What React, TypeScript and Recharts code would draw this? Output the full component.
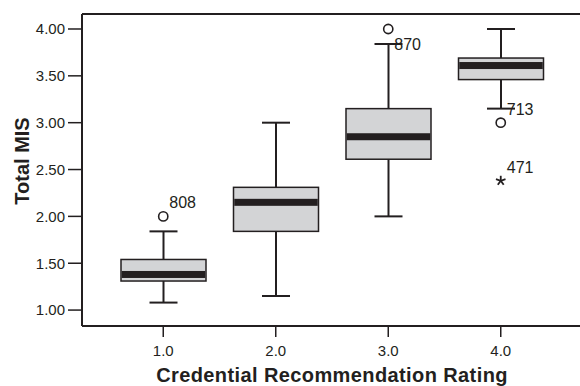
import React from 'react';
import { ComposedChart, Bar, Line, XAxis, YAxis, LabelList, Label, ReferenceLine } from 'recharts';

const categories = ['1.0', '2.0', '3.0', '4.0'];
const whiskerLow = [1.08, 1.15, 2.0, 3.15];
const q1 = [1.31, 1.84, 2.61, 3.46];
const median = [1.38, 2.15, 2.85, 3.61];
const q3 = [1.54, 2.31, 3.15, 3.69];
const whiskerHigh = [1.84, 3.0, 3.84, 4.0];

// circles (outliers) and stars (extremes), one slot per category
const outlierValues = [2.0, null, 4.0, 3.0];
const outlierLabels = ['808', null, '870', '713'];
const extremeValues = [null, null, null, 2.38];
const extremeLabels = [null, null, null, '471'];

const yTicks = [1.0, 1.5, 2.0, 2.5, 3.0, 3.5, 4.0];

const rows = categories.map((cat, i) => ({
  cat,
  lo: whiskerLow[i],
  q1: q1[i],
  med: median[i],
  q3: q3[i],
  hi: whiskerHigh[i],
  out: outlierValues[i],
  outLabel: outlierLabels[i],
  ext: extremeValues[i],
  extLabel: extremeLabels[i],
}));

const INK = '#231f20';
const FONT = '"Liberation Sans", Arial, Helvetica, sans-serif';
const Y_MIN = 0.83;
const Y_MAX = 4.16;
const labelsBelow = new Set(['870']);

const BoxShape = (props: any) => {
  const { x, y, width, height, payload } = props;
  const top = Math.min(y, y + height);
  const span = Math.abs(height);
  const toY = (v: number) => top + ((payload.hi - v) / (payload.hi - payload.lo)) * span;
  const cx = x + width / 2;
  const cap = 14;
  const yQ1 = toY(payload.q1);
  const yQ3 = toY(payload.q3);
  const yMed = toY(payload.med);
  return (
    <g>
      <line x1={cx} x2={cx} y1={toY(payload.hi)} y2={toY(payload.lo)} stroke={INK} strokeWidth={2} />
      <line x1={cx - cap} x2={cx + cap} y1={toY(payload.hi)} y2={toY(payload.hi)} stroke={INK} strokeWidth={2} />
      <line x1={cx - cap} x2={cx + cap} y1={toY(payload.lo)} y2={toY(payload.lo)} stroke={INK} strokeWidth={2} />
      <rect x={x} y={yQ3} width={width} height={yQ1 - yQ3} fill="#d3d4d6" stroke={INK} strokeWidth={1.5} />
      <rect x={x + 0.75} y={yMed - 3.5} width={width - 1.5} height={7} fill={INK} />
    </g>
  );
};

const circleDot = (p: any) => {
  if (p.cy == null || p.value == null) return <g key={`c${p.index}`} />;
  return <circle key={`c${p.index}`} cx={p.cx} cy={p.cy} r={4.6} fill="#fff" stroke={INK} strokeWidth={1.6} />;
};

const starDot = (p: any) => {
  if (p.cy == null || p.value == null) return <g key={`s${p.index}`} />;
  const spokes = [0, 1, 2, 3, 4].map((k) => {
    const a = ((-90 + k * 72) * Math.PI) / 180;
    return (
      <line key={k} x1={p.cx} y1={p.cy} x2={p.cx + 5 * Math.cos(a)} y2={p.cy + 5 * Math.sin(a)} stroke={INK} strokeWidth={1.8} />
    );
  });
  return <g key={`s${p.index}`}>{spokes}</g>;
};

const pointLabel = (p: any) => {
  if (p.value == null || p.y == null) return null;
  const below = labelsBelow.has(String(p.value));
  return (
    <text x={p.x + 6} y={p.y + (below ? 21 : -8)} fontSize={16} fontFamily={FONT} fill={INK}>
      {p.value}
    </text>
  );
};

const YTitle = (props: any) => {
  const { viewBox } = props;
  const cy = viewBox.y + viewBox.height / 2 - 9;
  const x = 29;
  return (
    <text x={x} y={cy} transform={`rotate(-90 ${x} ${cy})`} textAnchor="middle" fontSize={20} fontWeight="bold" fontFamily={FONT} fill={INK}>
      Total MIS
    </text>
  );
};

export default function App() {
  return (
    <div style={{ position: 'absolute', left: 0, top: 0, width: 580, height: 386, overflow: 'hidden', background: '#fff' }}>
      <ComposedChart width={584} height={386} data={rows} margin={{ top: 14, right: 2, bottom: 0, left: 0 }}>
        <XAxis
          dataKey="cat"
          height={60}
          padding={{ left: 25, right: 25 }}
          tickSize={11}
          tickMargin={8}
          axisLine={{ stroke: INK, strokeWidth: 2 }}
          tickLine={{ stroke: INK, strokeWidth: 1.5 }}
          tick={{ fill: INK, fontSize: 15, fontFamily: FONT }}
        >
          <Label
            value="Credential Recommendation Rating"
            position="insideBottom"
            offset={4}
            fill={INK}
            fontSize={20}
            fontWeight="bold"
            fontFamily={FONT}
            letterSpacing={0.4}
          />
        </XAxis>
        <YAxis
          width={82}
          domain={[Y_MIN, Y_MAX]}
          ticks={yTicks}
          allowDataOverflow
          tickFormatter={(v: number) => v.toFixed(2)}
          tickSize={14}
          tickMargin={3}
          axisLine={{ stroke: INK, strokeWidth: 2 }}
          tickLine={{ stroke: INK, strokeWidth: 1.5 }}
          tick={{ fill: INK, fontSize: 15, fontFamily: FONT }}
        >
          <Label content={<YTitle />} />
        </YAxis>
        <ReferenceLine y={Y_MAX} stroke={INK} strokeWidth={2} />
        <Bar dataKey={(d: any) => [d.lo, d.hi]} barSize={85} shape={<BoxShape />} isAnimationActive={false} />
        <Line dataKey="out" stroke="none" dot={circleDot} activeDot={false} isAnimationActive={false}>
          <LabelList dataKey="outLabel" content={pointLabel} />
        </Line>
        <Line dataKey="ext" stroke="none" dot={starDot} activeDot={false} isAnimationActive={false}>
          <LabelList dataKey="extLabel" content={pointLabel} />
        </Line>
      </ComposedChart>
    </div>
  );
}
